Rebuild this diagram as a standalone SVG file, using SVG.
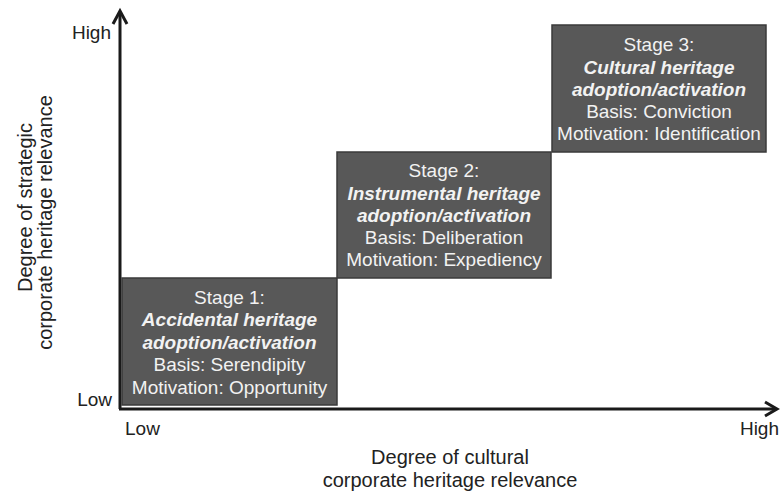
<svg xmlns="http://www.w3.org/2000/svg" width="780" height="494" viewBox="0 0 780 494">
<style>
.box{fill:#585858;stroke:#3a3a3a;stroke-width:1.5}
.t{font-family:"Liberation Sans",Arial,sans-serif;font-size:19px;fill:#f2f2f2;text-anchor:middle}
.b{font-weight:bold;font-style:italic}
.ax{font-family:"Liberation Sans",Arial,sans-serif;font-size:19px;fill:#222}
.ti{font-family:"Liberation Sans",Arial,sans-serif;font-size:20px;fill:#222;text-anchor:middle}
.axis{stroke:#1a1a1a;stroke-width:3;fill:none}
</style>
<rect width="780" height="494" fill="#fff"/>
<g id="connectors">
<path class="axis" d="M120 409 V12"/>
<path class="axis" d="M113 24 L120 11 L127 24"/>
<path class="axis" d="M119 409 H776"/>
<path class="axis" d="M765 402 L777 409 L765 416"/>
</g>
<g id="stage1">
<rect class="box" x="122" y="278" width="215" height="127"/>
<text class="t" x="229.5" y="304">Stage 1:</text>
<text class="t b" x="229.5" y="326">Accidental heritage</text>
<text class="t b" x="229.5" y="348.5">adoption/activation</text>
<text class="t" x="229.5" y="371">Basis: Serendipity</text>
<text class="t" x="229.5" y="393.5">Motivation: Opportunity</text>
</g>
<g id="stage2">
<rect class="box" x="337" y="152" width="214" height="126"/>
<text class="t" x="444" y="177">Stage 2:</text>
<text class="t b" x="444" y="199.5">Instrumental heritage</text>
<text class="t b" x="444" y="222">adoption/activation</text>
<text class="t" x="444" y="244">Basis: Deliberation</text>
<text class="t" x="444" y="266">Motivation: Expediency</text>
</g>
<g id="stage3">
<rect class="box" x="552" y="25" width="214" height="127"/>
<text class="t" x="659" y="51">Stage 3:</text>
<text class="t b" x="659" y="73.5">Cultural heritage</text>
<text class="t b" x="659" y="95.5">adoption/activation</text>
<text class="t" x="659" y="117.5">Basis: Conviction</text>
<text class="t" x="659" y="139.5">Motivation: Identification</text>
</g>
<g id="labels">
<text class="ax" x="111" y="39" text-anchor="end">High</text>
<text class="ax" x="112" y="406" text-anchor="end">Low</text>
<text class="ax" x="125" y="435">Low</text>
<text class="ax" x="779" y="435" text-anchor="end">High</text>
<text class="ti" x="450" y="464">Degree of cultural</text>
<text class="ti" x="450" y="487">corporate heritage relevance</text>
<text class="ti" transform="translate(32 207.5) rotate(-90)">Degree of strategic</text>
<text class="ti" transform="translate(52 222.5) rotate(-90)">corporate heritage relevance</text>
</g>
</svg>
